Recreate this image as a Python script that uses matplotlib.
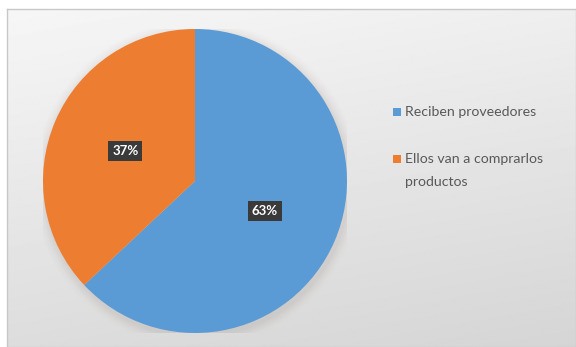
import matplotlib.pyplot as plt
import numpy as np
from matplotlib.patches import Circle, Rectangle

labels = ['Reciben proveedores', 'Ellos van a comprarlos\nproductos']
values = [63, 37]
colors = ['#5b9bd5', '#ed7d31']

W, H = 576, 347
fig = plt.figure(figsize=(W / 100, H / 100), dpi=100)
fig.patch.set_facecolor('white')

# gray gradient panel behind the chart
bg = fig.add_axes([7 / W, 0, 1 - 7 / W, (H - 9) / H])
yy, xx = np.mgrid[0:1:200j, 0:1:400j]
shade = 0.965 - 0.10 * yy - 0.03 * xx
bg.imshow(shade, cmap='gray', vmin=0, vmax=1, aspect='auto', extent=[0, 1, 0, 1], origin='upper')
bg.set_xticks([])
bg.set_yticks([])
for s in bg.spines.values():
    s.set_color('#c8c8c8')
    s.set_linewidth(1)

ax = fig.add_axes([43 / W, 14 / H, 304 / W, 304 / H])

wedges, _, autotexts = ax.pie(values, colors=colors, startangle=90, counterclock=False,
                              radius=1.0, autopct='%1.0f%%', pctdistance=0.5,
                              wedgeprops=dict(linewidth=0),
                              textprops=dict(color='white', fontsize=9.5, fontweight='bold', family='Lato'))
for t in autotexts:
    t.set_bbox(dict(boxstyle='square,pad=0.3', facecolor='#3a3a3a', edgecolor='none'))
    t.set_zorder(5)

# soft shadow around the pie
for i, a in enumerate(np.linspace(0.05, 0.01, 6)):
    ax.add_patch(Circle((0.01, -0.02), 1.0 + 0.012 * (i + 1), color='#9a8a80', alpha=a, lw=0, zorder=0))

ax.set_xlim(-1.0, 1.0)
ax.set_ylim(-1.0, 1.0)
ax.set_aspect('equal')
ax.axis('off')

# legend drawn by hand: square marker + label lines, in pixel units from the top-left
entry_y = [112, 159]
line_step = 23
for y0, lab, col in zip(entry_y, labels, colors):
    fig.patches.append(Rectangle((393 / W, 1 - (y0 + 4) / H), 8 / W, 8 / H,
                                 transform=fig.transFigure, facecolor=col, edgecolor='none'))
    for k, line in enumerate(lab.split('\n')):
        fig.text(405 / W, 1 - (y0 + k * line_step) / H, line, ha='left', va='center',
                 family='Lato', fontsize=10.2, color='#595959')

fig.savefig('out.png', dpi=100)
